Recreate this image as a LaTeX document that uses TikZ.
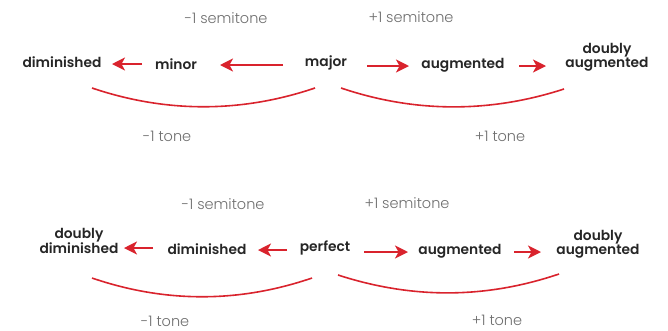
\documentclass[tikz,border=0pt]{standalone}
\usepackage{fontspec}
\setmainfont{Poppins}[BoldFont={Poppins SemiBold}]
\newfontfamily\lightf{Poppins Light}
\usetikzlibrary{arrows.meta}
\definecolor{ired}{HTML}{D9232D}
\definecolor{igray}{HTML}{6F6F6F}
\tikzset{
  lbl/.style={font=\fontsize{13.8}{14}\selectfont\bfseries, text=black!85, inner sep=0pt, align=center},
  note/.style={font=\lightf\fontsize{14.5}{14}\selectfont, text=igray, inner sep=0pt},
  arr/.style={draw=ired, line width=1.7pt, -{Stealth[length=13pt,width=13pt,inset=3.5pt]}},
  brace/.style={draw=ired, line width=1.6pt}
}
\begin{document}
\begin{tikzpicture}[x=1pt,y=-1pt]
\useasboundingbox (0,0) rectangle (668,330);
% row 1
\node[lbl] (dim1) at (62,62) {diminished};
\node[lbl] (min1) at (176,64) {minor};
\node[lbl] (maj1) at (326,63) {major};
\node[lbl] (aug1) at (463,65) {augmented};
\node[lbl] (daug1) at (607,57) {doubly\\augmented};
\node[note] (ms1) at (226,18) {-1 semitone};
\node[note] (ps1) at (411,17) {+1 semitone};
\node[note] (mt1) at (167,136) {-1 tone};
\node[note] (pt1) at (500,136) {+1 tone};
\coordinate (a1s) at (142,64); \coordinate (a1e) at (112,64);
\coordinate (a2s) at (283,65); \coordinate (a2e) at (220,65);
\coordinate (a3s) at (367,66); \coordinate (a3e) at (409,66);
\coordinate (a4s) at (519,66); \coordinate (a4e) at (546,66);
\draw[arr] (a1s) -- (a1e);
\draw[arr] (a2s) -- (a2e);
\draw[arr] (a3s) -- (a3e);
\draw[arr] (a4s) -- (a4e);
\coordinate (b1s) at (92,88); \coordinate (b1e) at (315,88);
\coordinate (b2s) at (341,88); \coordinate (b2e) at (564,89);
\draw[brace] (b1s) .. controls (166,113) and (241,113) .. (b1e);
\draw[brace] (b2s) .. controls (415,113) and (490,113) .. (b2e);
% row 2
\node[lbl] (ddim2) at (79,241) {doubly\\diminished};
\node[lbl] (dim2) at (207,249) {diminished};
\node[lbl] (perf2) at (325,248) {perfect};
\node[lbl] (aug2) at (460,251) {augmented};
\node[lbl] (daug2) at (598,244) {doubly\\augmented};
\node[note] (ms2) at (223,204) {-1 semitone};
\node[note] (ps2) at (407,203) {+1 semitone};
\node[note] (mt2) at (165,321) {-1 tone};
\node[note] (pt2) at (497,320) {+1 tone};
\coordinate (c1s) at (153,248); \coordinate (c1e) at (124,248);
\coordinate (c2s) at (287,250); \coordinate (c2e) at (258,250);
\coordinate (c3s) at (364,252); \coordinate (c3e) at (408,252);
\coordinate (c4s) at (514,252); \coordinate (c4e) at (541,252);
\draw[arr] (c1s) -- (c1e);
\draw[arr] (c2s) -- (c2e);
\draw[arr] (c3s) -- (c3e);
\draw[arr] (c4s) -- (c4e);
\coordinate (d1s) at (92,278); \coordinate (d1e) at (312,278);
\coordinate (d2s) at (338,275); \coordinate (d2e) at (559,274);
\draw[brace] (d1s) .. controls (165,303) and (239,303) .. (d1e);
\draw[brace] (d2s) .. controls (412,299) and (485,299) .. (d2e);
\end{tikzpicture}
\end{document}
